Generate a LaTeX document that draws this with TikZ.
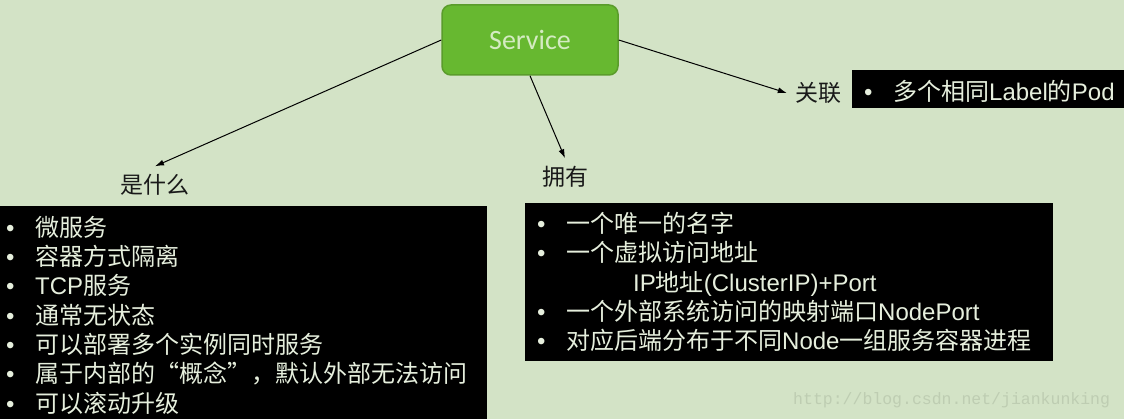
\documentclass[tikz,border=0pt]{standalone}
\usepackage{fontspec}
\setmainfont{Liberation Sans}
\newfontfamily\zh{Noto Sans CJK SC}
\newfontfamily\svcfont{Carlito}
\newfontfamily\wmfont{Liberation Mono}
\usetikzlibrary{positioning,arrows.meta}
\definecolor{bg}{HTML}{D3E3C6}
\definecolor{svcfill}{HTML}{67B830}
\definecolor{svcline}{HTML}{5A9C2B}
\definecolor{svctext}{HTML}{D4EBC2}
\definecolor{listtext}{HTML}{E6EFDD}
\definecolor{wmark}{HTML}{BECDB2}
\newcommand{\bul}{\makebox[29pt][l]{•}}
\begin{document}
\begin{tikzpicture}[x=1pt,y=-1pt,every node/.style={align=left},
  branch/.style={font=\zh\fontsize{23}{28}\selectfont,text=black!90,inner sep=8pt},
  list/.style={fill=black,text=listtext,inner xsep=6pt,inner ysep=9pt,anchor=north west},
  link/.style={-{Latex[length=9pt,width=6pt]},line width=1pt}]
\fill[bg] (0,0) rectangle (1124,419);
\useasboundingbox (0,0) rectangle (1124,419);
\node[draw=svcline,line width=1.5pt,fill=svcfill,rounded corners=9pt,minimum width=176pt,minimum height=70pt,text=svctext,font=\svcfont\fontsize{28}{32}\selectfont] (svc) at (530,40) {Service};
\node[branch] (what) at (155,185) {是什么};
\node[branch] (have) at (565,177) {拥有};
\node[branch] (rel) at (818,93) {关联};
\node[list,inner ysep=10pt,text width=475pt,font=\fontsize{24}{29.3}\selectfont] (whatlist) at (0,206) {\bul{\zh 微服务}\\
  \bul{\zh 容器方式隔离}\\
  \bul TCP{\zh 服务}\\
  \bul{\zh 通常无状态}\\
  \bul{\zh 可以部署多个实例同时服务}\\
  \bul{\zh 属于内部的“概念”，默认外部无法访问}\\
  \bul{\zh 可以滚动升级}};
\node[list,inner xsep=12pt,inner ysep=9pt,text width=504pt,font=\fontsize{24}{29.25}\selectfont] (havelist) at (525,203) {\bul{\zh 一个唯一的名字}\\
  \bul{\zh 一个虚拟访问地址}\\
  \hspace*{96pt}IP{\zh 地址}(ClusterIP)+Port\\
  \bul{\zh 一个外部系统访问的映射端口}NodePort\\
  \bul{\zh 对应后端分布于不同}Node{\zh 一组服务容器进程}};
\node[list,inner xsep=12pt,inner ysep=7.5pt,text height=23pt,text depth=0pt,text width=260pt,font=\fontsize{24}{29}\selectfont] (rellist) at (852,70) {\bul{\zh 多个相同}Label{\zh 的}Pod};
\draw[link] (svc.west) -- (what.north);
\draw[link] (svc.south) -- (have.north);
\draw[link] (svc.east) -- (rel.west);
\node[font=\wmfont\fontsize{16.5}{20}\selectfont,text=wmark,anchor=west,inner sep=0pt] (wm) at (793,400) {http://blog.csdn.net/jiankunking};
\end{tikzpicture}
\end{document}
